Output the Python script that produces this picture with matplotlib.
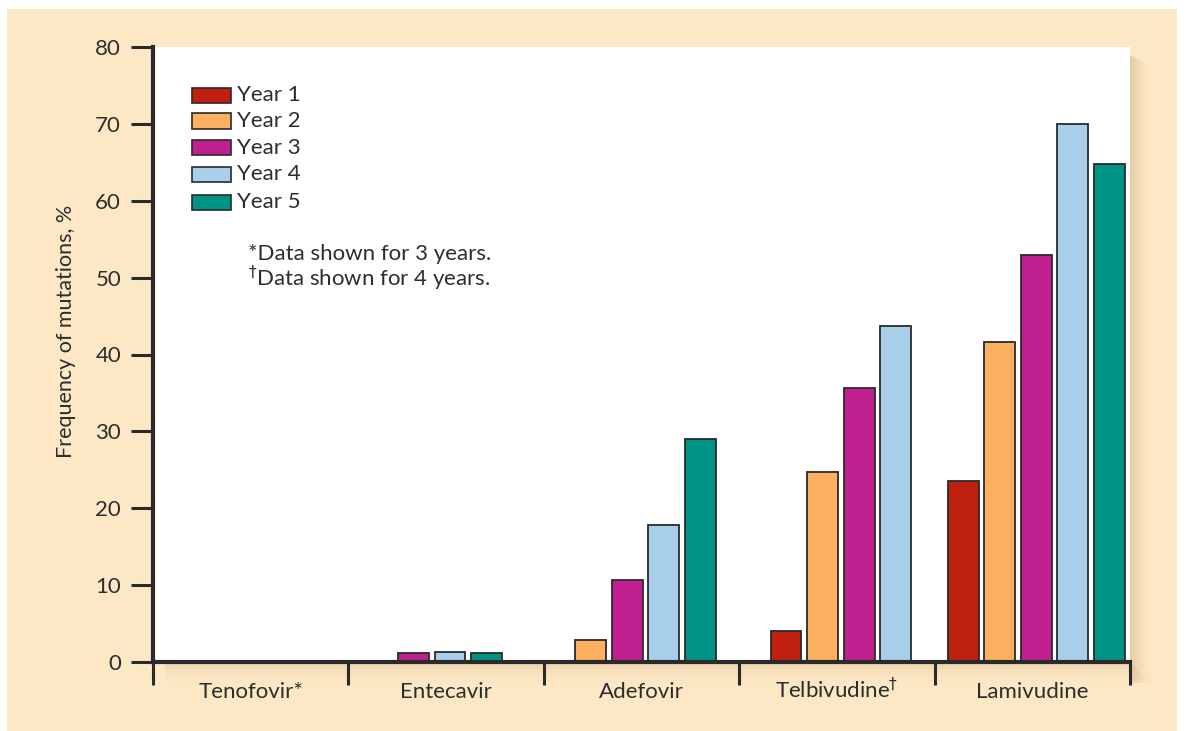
import matplotlib
matplotlib.use("Agg")
import matplotlib.pyplot as plt
import numpy as np
from matplotlib.patches import Rectangle

plt.rcParams['font.family'] = ['Lato', 'DejaVu Sans']
plt.rcParams['mathtext.fontset'] = 'dejavusans'

# ---- data ----
categories = ["Tenofovir*", "Entecavir", "Adefovir", r"Telbivudine$^{\dag}$", "Lamivudine"]
series_names = ["Year 1", "Year 2", "Year 3", "Year 4", "Year 5"]
year1 = [None, None, None, 4, 23.6]
year2 = [None, None, 2.9, 24.7, 41.6]
year3 = [None, 1.2, 10.7, 35.7, 53]
year4 = [None, 1.3, 17.8, 43.7, 70]
year5 = [None, 1.2, 29, None, 64.8]
yticks = [0, 10, 20, 30, 40, 50, 60, 70, 80]
footnotes = ["*Data shown for 3 years.", r"$^{\dag}$Data shown for 4 years."]
ylabel = "Frequency of mutations, %"

colors = ["#C02010", "#FCB060", "#C0208F", "#A8D0EC", "#009486"]
edge = "#2a2a2a"
beige = "#FDE8C6"
txt = "#2d2d2d"

W, H = 1188, 731
fig = plt.figure(figsize=(W / 100, H / 100), dpi=100, facecolor="white")

def fx(x):
    return x / W

def fy(y):
    return 1 - y / H

# background panel (pixel coordinate axes)
bg = fig.add_axes([0, 0, 1, 1], zorder=0)
bg.set_xlim(0, W)
bg.set_ylim(H, 0)
bg.axis("off")
bg.add_patch(Rectangle((7, 9), 1170, 722, facecolor=beige, edgecolor="none"))
# soft shadow right of and below the plot area
shadow_col = np.array([0.78, 0.66, 0.46])
for i in range(22):
    a = 0.45 * (1 - i / 22) ** 1.6
    bg.add_patch(Rectangle((1130 + i, 55 + i * 0.5), 1, 628 - i * 0.5,
                           facecolor=shadow_col, alpha=a, edgecolor="none"))
    bg.add_patch(Rectangle((165, 662 + i), 965 + i, 1,
                           facecolor=shadow_col, alpha=a * 0.7, edgecolor="none"))

L, R, T, B = 153, 1130, 47, 662
ax = fig.add_axes([fx(L), fy(B), fx(R) - fx(L), fy(T) - fy(B)], zorder=2)
ax.set_facecolor("white")
ax.set_xlim(0, len(categories))
ax.set_ylim(0, 80)

series = [year1, year2, year3, year4, year5]
slot = 0.187
bw = 0.158
for ci in range(len(categories)):
    present = [si for si in range(len(series)) if series[si][ci] is not None]
    n = len(present)
    for k, si in enumerate(present):
        xc = ci + 0.5 + 0.02 + (k - (n - 1) / 2) * slot
        ax.bar(xc, series[si][ci], width=bw, color=colors[si], edgecolor=edge,
               linewidth=1.3, zorder=3)

for s in ["top", "right"]:
    ax.spines[s].set_visible(False)
for s in ["left", "bottom"]:
    ax.spines[s].set_linewidth(3.0)
    ax.spines[s].set_color(edge)
    ax.spines[s].set_zorder(5)
ax.spines["bottom"].set_capstyle("projecting")

ax.set_yticks(yticks)
ax.set_yticklabels([str(v) for v in yticks], fontsize=16, color=txt)
ax.tick_params(axis="y", direction="out", length=16, width=2.2, color=edge, pad=7)

ax.set_xticks(range(len(categories) + 1))
ax.set_xticklabels([])
ax.tick_params(axis="x", which="major", direction="out", length=16.5, width=2.2, color=edge)

# category labels, baseline aligned
base_frac = -(698 - B) / (B - T)
for ci, name in enumerate(categories):
    ax.text(ci + 0.5, base_frac, name, transform=ax.get_xaxis_transform(),
            ha="center", va="baseline", fontsize=16, color=txt, clip_on=False)

# y label
fig.text(fx(66), fy(331), ylabel, rotation=90, ha="center", va="center",
         fontsize=15.5, color=txt)

# legend
ys = [95, 121, 147.5, 174.5, 202]
for i, name in enumerate(series_names):
    fig.patches.append(Rectangle((fx(192), fy(ys[i] + 7.5)), fx(231) - fx(192),
                                 fy(ys[i] - 7.5) - fy(ys[i] + 7.5),
                                 transform=fig.transFigure, facecolor=colors[i],
                                 edgecolor=edge, linewidth=1.2, zorder=4))
    fig.text(fx(237), fy(ys[i]), name, ha="left", va="center", fontsize=16,
             color=txt, zorder=4)

fig.text(fx(248), fy(260), footnotes[0], ha="left", va="baseline", fontsize=16, color=txt, zorder=4)
fig.text(fx(248), fy(286), footnotes[1], ha="left", va="baseline", fontsize=16, color=txt, zorder=4)

fig.savefig("out.png", dpi=100, facecolor="white")
